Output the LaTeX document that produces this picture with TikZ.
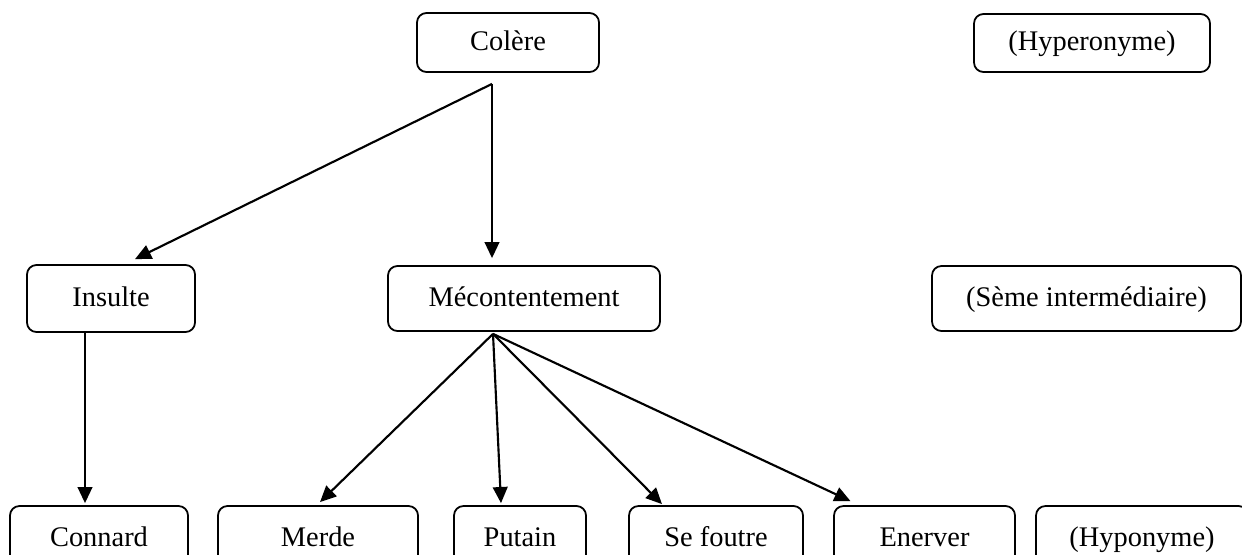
\documentclass[tikz,border=0pt]{standalone}
\usepackage{fontspec}
\setmainfont{Liberation Serif}
\usetikzlibrary{arrows.meta,calc}
\newcommand{\pxu}{0.01485cm}

\begin{document}
\begin{tikzpicture}[x=\pxu,y=-\pxu,
  wordbox/.style={draw,rounded corners=4pt,line width=0.75pt,inner sep=0pt,
    text height=0.9em,text depth=0.24em,
    minimum height=65*\pxu,font=\fontsize{12}{14}\selectfont},
  arr/.style={-{Triangle[length=6.8pt,width=6.2pt]},line width=0.9pt}]
  \clip (0,0) rectangle (1242,554);
  % Hyperonyme
  \node[wordbox,minimum width=182*\pxu,minimum height=59*\pxu] (colere) at (508,42.5) {Colère};
  \node[wordbox,minimum width=236*\pxu,minimum height=58*\pxu] (hyper) at (1092,43) {(Hyperonyme)};
  % Seme intermediaire
  \node[wordbox,minimum width=168*\pxu,minimum height=67*\pxu] (insulte) at (111,298.5) {Insulte};
  \node[wordbox,minimum width=272*\pxu] (mecont) at (524,298.5) {Mécontentement};
  \node[wordbox,minimum width=309*\pxu] (seme) at (1086.5,298.5) {(Sème intermédiaire)};
  % Hyponymes
  \node[wordbox,minimum width=178*\pxu] (connard) at (99,538.5) {Connard};
  \node[wordbox,minimum width=200*\pxu] (merde) at (318,538.5) {Merde};
  \node[wordbox,minimum width=132*\pxu] (putain) at (520,538.5) {Putain};
  \node[wordbox,minimum width=174*\pxu] (foutre) at (716,538.5) {Se foutre};
  \node[wordbox,minimum width=181*\pxu] (enerver) at (924.5,538.5) {Enerver};
  \node[wordbox,minimum width=212*\pxu] (hypo) at (1142,538.5) {(Hyponyme)};
  % depart des fleches
  \coordinate (colere-out) at ($(colere.south)+(-16,11)$);
  \coordinate (mecont-out) at ($(mecont.south)+(-31,2)$);
  % Fleches
  \draw[arr] (colere-out) -- ($(insulte.north)+(24,-5)$);
  \draw[arr] (colere-out) -- ($(mecont.north)+(-32,-7)$);
  \draw[arr] ($(insulte.south)+(-26,0)$) -- ($(connard.north)+(-14,-2)$);
  \draw[arr] (mecont-out) -- ($(merde.north)+(2,-3)$);
  \draw[arr] (mecont-out) -- ($(putain.north)+(-19,-2)$);
  \draw[arr] (mecont-out) -- ($(foutre.north)+(-54,-1)$);
  \draw[arr] (mecont-out) -- ($(enerver.north)+(-74,-4)$);
\end{tikzpicture}
\end{document}
